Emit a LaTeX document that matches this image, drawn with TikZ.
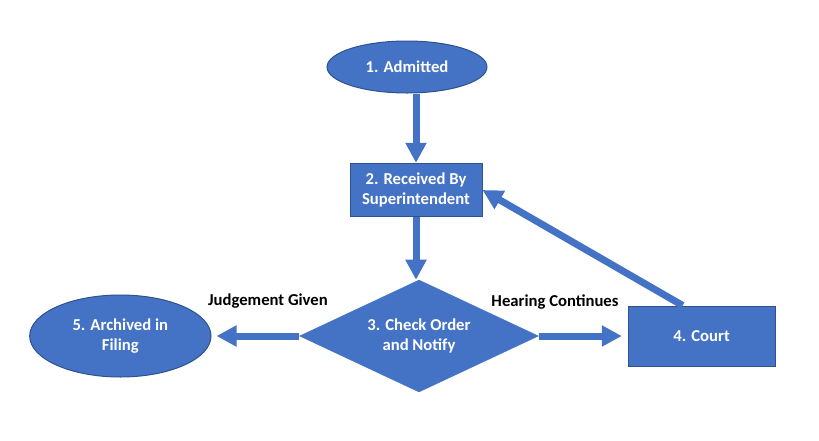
\documentclass[tikz,border=0pt]{standalone}
\usepackage{fontspec}
\setmainfont{Carlito}
\usetikzlibrary{shapes.geometric,arrows.meta,positioning}
\definecolor{boxblue}{HTML}{4472C4}
\definecolor{edgeblue}{HTML}{2F528F}

\begin{document}
\begin{tikzpicture}[
    node distance=2cm,
    term/.style={ellipse, draw=edgeblue, fill=boxblue, text=white, line width=0.75pt, align=center, font=\bfseries\fontsize{12.5}{15}\selectfont},
    proc/.style={rectangle, draw=edgeblue, fill=boxblue, text=white, line width=0.75pt, align=center, font=\bfseries\fontsize{12.5}{15}\selectfont},
    dec/.style={diamond, aspect=2.1, draw=boxblue, fill=boxblue, text=white, inner sep=0pt, align=center, font=\bfseries\fontsize{12.5}{15}\selectfont},
    flow/.style={draw=boxblue, line width=5.25pt, -{Triangle[width=15pt, length=15pt]}},
    lbl/.style={text=black, font=\bfseries\fontsize{12.5}{15}\selectfont}
]
    \useasboundingbox (0,0) rectangle (614.25pt,-330pt);

    \node[term, minimum width=120pt, minimum height=39pt] (adm) at (305.25pt,-50.25pt) {1. Admitted};
    \node[proc, minimum width=99pt, minimum height=40pt] (recv) [below of=adm, node distance=92.25pt, xshift=6.75pt] {2. Received By\\Superintendent};
    \node[dec, minimum width=179pt, minimum height=84pt] (chk) [below of=recv, node distance=109.5pt, xshift=2.25pt] {3. Check Order\\and Notify};
    \node[term, minimum width=136pt, minimum height=61.5pt] (arch) [left of=chk, node distance=224pt] {5. Archived in\\Filing};
    \node[proc, minimum width=110pt, minimum height=45pt] (court) [right of=chk, node distance=212pt] {4. Court};

    \draw[flow] (adm.south -| recv.north) -- (recv.north);
    \draw[flow] (recv.south) -- (recv.south |- chk.north);
    \draw[flow, shorten >=3.75pt] (chk.west) -- (arch.east);
    \draw[flow, shorten >=4.5pt] (chk.east) -- (court.west);
    \coordinate (back) at ([xshift=-14.25pt]court.north);
    \draw[flow] (back) -- (recv.east);

    \node[lbl] (judg) at (201pt,-225.75pt) {Judgement Given};
    \node[lbl] (hear) at (416.25pt,-226.5pt) {Hearing Continues};
\end{tikzpicture}
\end{document}
